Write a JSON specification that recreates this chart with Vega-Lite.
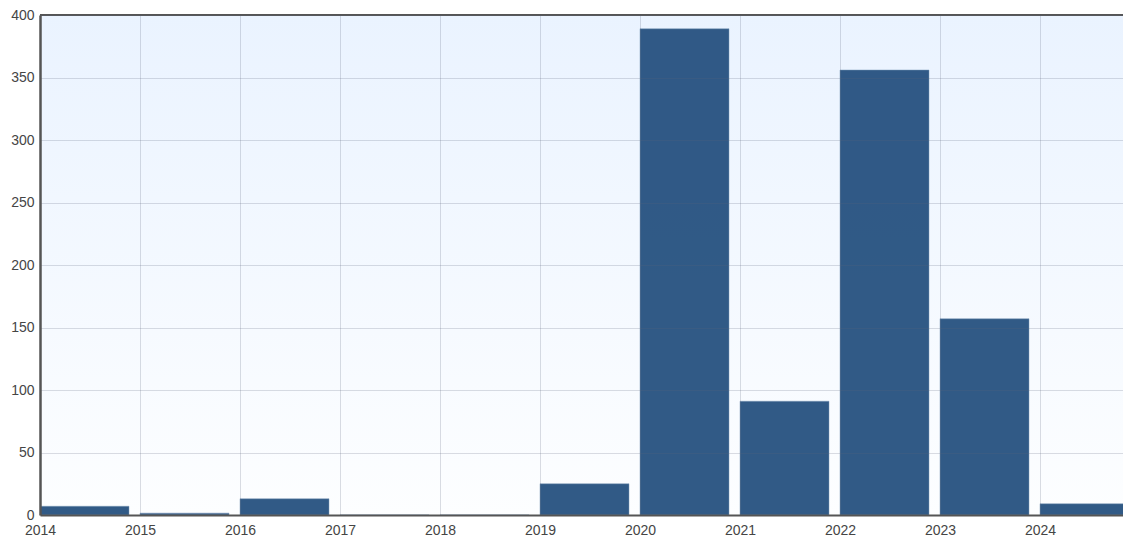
{
  "$schema": "https://vega.github.io/schema/vega-lite/v6.json",
  "width": 1083,
  "height": 500,
  "autosize": {"type": "none"},
  "padding": {"left": 40, "top": 15, "right": 0, "bottom": 28},
  "background": "#ffffff",
  "config": {
    "view": {"stroke": null},
    "font": "Liberation Sans",
    "axis": {
      "labelFont": "Liberation Sans",
      "labelFontSize": 14,
      "labelColor": "#454545",
      "ticks": false,
      "title": null
    }
  },
  "data": {
    "values": [
      {"start": 2014, "end": 2014.89, "count": 7},
      {"start": 2015, "end": 2015.89, "count": 1.5},
      {"start": 2016, "end": 2016.89, "count": 13},
      {"start": 2017, "end": 2017.89, "count": 0},
      {"start": 2018, "end": 2018.89, "count": 0},
      {"start": 2019, "end": 2019.89, "count": 25},
      {"start": 2020, "end": 2020.89, "count": 389},
      {"start": 2021, "end": 2021.89, "count": 91},
      {"start": 2022, "end": 2022.89, "count": 356},
      {"start": 2023, "end": 2023.89, "count": 157},
      {"start": 2024, "end": 2024.89, "count": 9}
    ]
  },
  "layer": [
    {
      "mark": {
        "type": "rect",
        "color": {
          "gradient": "linear",
          "x1": 0, "y1": 0, "x2": 0, "y2": 1,
          "stops": [
            {"offset": 0, "color": "#eaf3ff"},
            {"offset": 1, "color": "#fdfeff"}
          ]
        }
      },
      "encoding": {}
    },
    {
      "mark": {"type": "rect", "clip": true, "fill": "#1c4979", "opacity": 0.9, "stroke": "#6f8fb3", "strokeWidth": 0.8, "strokeOpacity": 0.6},
      "encoding": {
        "x": {
          "field": "start",
          "type": "quantitative",
          "scale": {"domain": [2014, 2024.83], "nice": false, "zero": false},
          "axis": {
            "values": [2014, 2015, 2016, 2017, 2018, 2019, 2020, 2021, 2022, 2023, 2024],
            "format": "d",
            "labelFlush": false,
            "domain": true,
            "domainColor": "#555555",
            "domainWidth": 2,
            "labelPadding": 8,
            "grid": true,
            "gridColor": "rgba(90,100,125,0.22)",
            "gridWidth": 1,
            "zindex": 1
          }
        },
        "x2": {"field": "end"},
        "y": {
          "field": "count",
          "type": "quantitative",
          "scale": {"domain": [0, 400], "nice": false},
          "axis": {
            "values": [0, 50, 100, 150, 200, 250, 300, 350, 400],
            "domain": true,
            "domainColor": "#555555",
            "domainWidth": 2.5,
            "labelPadding": 6,
            "labelFlush": false,
            "grid": true,
            "gridColor": "rgba(90,100,125,0.22)",
            "gridWidth": 1,
            "zindex": 1
          }
        },
        "y2": {"datum": 0}
      }
    },
    {
      "mark": {"type": "rule", "color": "#555555", "strokeWidth": 2},
      "encoding": {"y": {"datum": 400}}
    }
  ]
}
